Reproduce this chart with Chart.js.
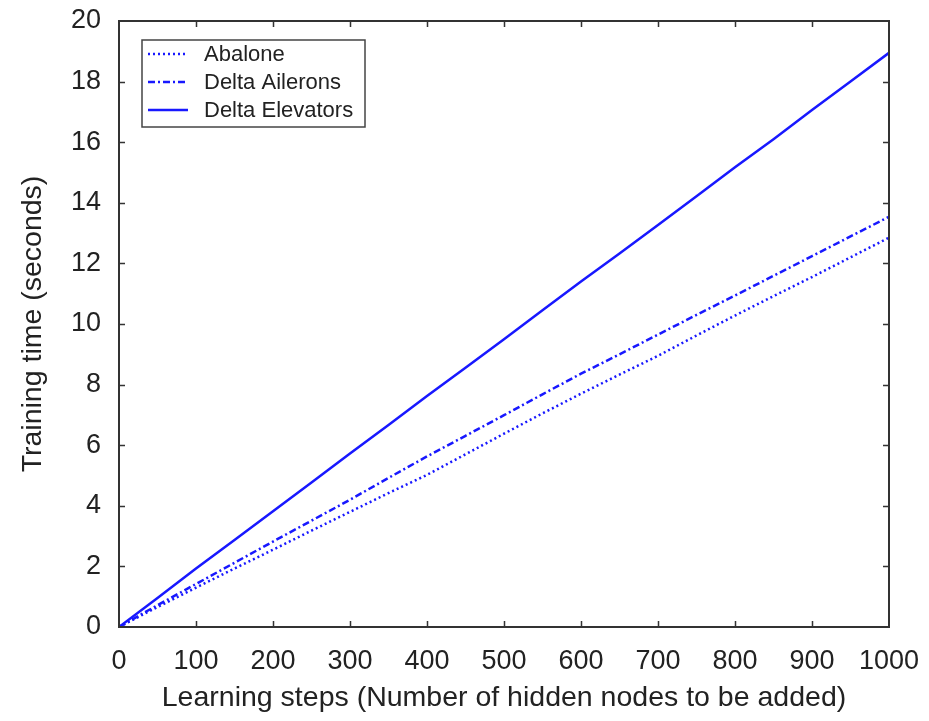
<!DOCTYPE html>
<html>
<head>
<meta charset="utf-8">
<script src="https://cdn.jsdelivr.net/npm/chart.js@4/dist/chart.umd.min.js"></script>
<style>
  html, body { margin: 0; padding: 0; background: #ffffff; }
  #wrap { width: 929px; height: 721px; position: relative; }
</style>
</head>
<body>
<div id="wrap"><canvas id="chart" width="929" height="721"></canvas></div>
<script>
// Learning steps (hidden nodes added), sampled every 50 steps
const steps = [0, 50, 100, 150, 200, 250, 300, 350, 400, 450, 500,
               550, 600, 650, 700, 750, 800, 850, 900, 950, 1000];

// Training time in seconds for each data set
const abalone = [0, 0.66, 1.30, 1.93, 2.55, 3.18, 3.80, 4.42, 5.02, 5.70, 6.38,
                 7.05, 7.70, 8.33, 8.95, 9.62, 10.28, 10.92, 11.55, 12.20, 12.85];
const deltaAilerons = [0, 0.72, 1.42, 2.12, 2.82, 3.51, 4.20, 4.92, 5.63, 6.31, 6.99,
                       7.68, 8.36, 9.00, 9.65, 10.30, 10.94, 11.59, 12.24, 12.89, 13.54];
const deltaElevators = [0, 0.96, 1.93, 2.87, 3.82, 4.77, 5.73, 6.67, 7.62, 8.56, 9.50,
                        10.45, 11.40, 12.33, 13.27, 14.22, 15.17, 16.10, 17.06, 18.00, 18.95];

const seriesNames = ['Abalone', 'Delta Ailerons', 'Delta Elevators'];
const xTicks = [0, 100, 200, 300, 400, 500, 600, 700, 800, 900, 1000];
const yTicks = [0, 2, 4, 6, 8, 10, 12, 14, 16, 18, 20];

const FONT = "'Liberation Sans', Arial, sans-serif";
const BLUE = 'rgb(24, 24, 255)';
const TEXT = '#222222';

function pts(ys) { return steps.map((s, i) => ({ x: s, y: ys[i] })); }

// Plot frame with inward ticks on all four sides (gnuplot style)
const framePlugin = {
  id: 'frame',
  afterDatasetsDraw(chart) {
    const { ctx, chartArea: a, scales } = chart;
    const len = 6;
    ctx.save();
    ctx.strokeStyle = '#333333';
    ctx.lineWidth = 1.5;
    xTicks.forEach(v => {
      if (v === xTicks[0] || v === xTicks[xTicks.length - 1]) return;
      const px = Math.round(scales.x.getPixelForValue(v)) + 0.5;
      ctx.beginPath();
      ctx.moveTo(px, a.bottom); ctx.lineTo(px, a.bottom - len);
      ctx.moveTo(px, a.top); ctx.lineTo(px, a.top + len);
      ctx.stroke();
    });
    yTicks.forEach(v => {
      if (v === yTicks[0] || v === yTicks[yTicks.length - 1]) return;
      const py = Math.round(scales.y.getPixelForValue(v)) + 0.5;
      ctx.beginPath();
      ctx.moveTo(a.left, py); ctx.lineTo(a.left + len, py);
      ctx.moveTo(a.right, py); ctx.lineTo(a.right - len, py);
      ctx.stroke();
    });
    ctx.lineWidth = 2;
    ctx.strokeRect(a.left, a.top, a.right - a.left, a.bottom - a.top);
    ctx.restore();
  }
};

// Boxed legend in the upper-left corner of the plot
const boxLegendPlugin = {
  id: 'boxLegend',
  afterDraw(chart) {
    const { ctx, chartArea: a } = chart;
    const x0 = a.left + 23, y0 = a.top + 19, w = 223, h = 87;
    ctx.save();
    ctx.fillStyle = '#ffffff';
    ctx.fillRect(x0, y0, w, h);
    ctx.strokeStyle = '#444444';
    ctx.lineWidth = 1.5;
    ctx.strokeRect(x0, y0, w, h);
    chart.data.datasets.forEach((ds, i) => {
      const cy = y0 + 14 + i * 28;
      ctx.strokeStyle = ds.borderColor;
      ctx.lineWidth = ds.borderWidth;
      ctx.setLineDash(ds.borderDash || []);
      ctx.beginPath();
      ctx.moveTo(x0 + 6, cy); ctx.lineTo(x0 + 46, cy);
      ctx.stroke();
      ctx.setLineDash([]);
      ctx.fillStyle = TEXT;
      ctx.font = '22px ' + FONT;
      ctx.textBaseline = 'middle';
      ctx.textAlign = 'left';
      ctx.fillText(ds.label, x0 + 62, cy + 1);
    });
    ctx.restore();
  }
};

new Chart(document.getElementById('chart'), {
  type: 'line',
  data: {
    datasets: [
      { label: seriesNames[0], data: pts(abalone), borderColor: BLUE, borderWidth: 2.5, borderDash: [2, 3] },
      { label: seriesNames[1], data: pts(deltaAilerons), borderColor: BLUE, borderWidth: 2.5, borderDash: [7, 3, 2, 3] },
      { label: seriesNames[2], data: pts(deltaElevators), borderColor: BLUE, borderWidth: 2.5 }
    ]
  },
  options: {
    responsive: false,
    animation: false,
    layout: { padding: { left: 16, right: 40, top: 21, bottom: 6 } },
    elements: { point: { radius: 0 }, line: { tension: 0 } },
    plugins: { legend: { display: false }, tooltip: { enabled: false } },
    scales: {
      x: {
        type: 'linear', min: 0, max: 1000,
        afterBuildTicks: s => { s.ticks = xTicks.map(v => ({ value: v })); },
        afterFit: s => { s.height = 88; s.paddingLeft = 0; s.paddingRight = 0; },
        grid: { display: false, drawTicks: false },
        border: { display: false },
        ticks: { color: TEXT, font: { family: FONT, size: 27 }, padding: 18, maxRotation: 0,
                 autoSkip: false, callback: v => String(v) },
        title: { display: true, text: 'Learning steps (Number of hidden nodes to be added)',
                 color: TEXT, font: { family: FONT, size: 28.5 }, padding: 0 }
      },
      y: {
        type: 'linear', min: 0, max: 20,
        afterBuildTicks: s => { s.ticks = yTicks.map(v => ({ value: v })); },
        afterFit: s => { s.width = 103; s.paddingTop = 0; s.paddingBottom = 0; },
        grid: { display: false, drawTicks: false },
        border: { display: false },
        ticks: { color: TEXT, font: { family: FONT, size: 27 }, padding: 18, autoSkip: false,
                 callback: v => String(v) },
        title: { display: true, text: 'Training time (seconds)',
                 color: TEXT, font: { family: FONT, size: 28.5 }, padding: 0 }
      }
    }
  },
  plugins: [framePlugin, boxLegendPlugin]
});
</script>
</body>
</html>
